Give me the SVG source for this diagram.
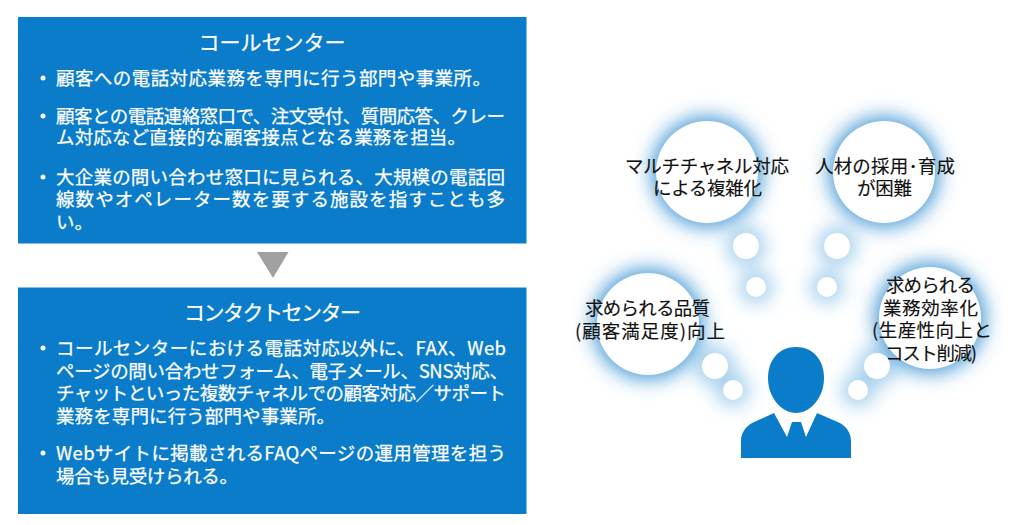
<svg xmlns="http://www.w3.org/2000/svg" width="1030" height="525" viewBox="0 0 1030 525">
<style>
text{font-family:"Noto Sans CJK JP","Liberation Sans",sans-serif}
.box{fill:#0a7cc9}
.w{fill:#fff;font-size:18.500px;stroke:#fff;stroke-width:.25}
.t{fill:#fff;font-size:21px;text-anchor:middle;stroke:#fff;stroke-width:.25}
.k{fill:#111;font-size:18.500px;stroke:#111;stroke-width:.15}
.gl{fill:#3f96d4}
.gs{fill:#a9d2ee}
.c{fill:#fff}
</style>
<defs>
<filter id="glow" x="-70%" y="-70%" width="240%" height="240%"><feGaussianBlur stdDeviation="10"/></filter>
<filter id="glows" x="-200%" y="-200%" width="500%" height="500%"><feGaussianBlur stdDeviation="9"/></filter>
</defs>
<rect width="1030" height="525" fill="#fff"/>
<g id="call-center">
<rect class="box" x="18" y="17" width="508.500" height="226.500"/>
<text class="t" x="272" y="50" textLength="147" lengthAdjust="spacing">コールセンター</text>
<circle class="c" cx="43" cy="78" r="2.500"/>
<text class="w" x="56" y="85" textLength="435" lengthAdjust="spacing">顧客への電話対応業務を専門に行う部門や事業所。</text>
<circle class="c" cx="43" cy="116" r="2.500"/>
<text class="w"><tspan x="56" y="123" textLength="449" lengthAdjust="spacing">顧客との電話連絡窓口で、注文受付、質問応答、クレー</tspan><tspan x="56" y="144" textLength="410" lengthAdjust="spacing">ム対応など直接的な顧客接点となる業務を担当。</tspan></text>
<circle class="c" cx="43" cy="177" r="2.500"/>
<text class="w"><tspan x="56" y="184" textLength="449" lengthAdjust="spacing">大企業の問い合わせ窓口に見られる、大規模の電話回</tspan><tspan x="56" y="206" textLength="449" lengthAdjust="spacing">線数やオペレーター数を要する施設を指すことも多</tspan><tspan x="56" y="229">い。</tspan></text>
</g>
<g id="arrow"><polygon points="257,252 288.500,252 273,278" fill="#a0a0a0"/></g>
<g id="contact-center">
<rect class="box" x="18" y="287.500" width="508.500" height="226.500"/>
<text class="t" x="272.500" y="320" textLength="177" lengthAdjust="spacing">コンタクトセンター</text>
<circle class="c" cx="43" cy="348" r="2.500"/>
<text class="w"><tspan x="56" y="355" textLength="450" lengthAdjust="spacing">コールセンターにおける電話対応以外に、FAX、Web</tspan><tspan x="56" y="378" textLength="452" lengthAdjust="spacing">ページの問い合わせフォーム、電子メール、SNS対応、</tspan><tspan x="56" y="400" textLength="450" lengthAdjust="spacing">チャットといった複数チャネルでの顧客対応／サポート</tspan><tspan x="56" y="423" textLength="279" lengthAdjust="spacing">業務を専門に行う部門や事業所。</tspan></text>
<circle class="c" cx="43" cy="453" r="2.500"/>
<text class="w"><tspan x="56" y="460" textLength="450" lengthAdjust="spacing">Webサイトに掲載されるFAQページの運用管理を担う</tspan><tspan x="56" y="483" textLength="182" lengthAdjust="spacing">場合も見受けられる。</tspan></text>
</g>
<g id="connectors">
<g filter="url(#glows)">
<circle class="gs" cx="746" cy="246" r="20"/><circle class="gs" cx="756" cy="287" r="17"/>
<circle class="gs" cx="837" cy="246" r="20"/><circle class="gs" cx="827" cy="287" r="17"/>
<circle class="gs" cx="715" cy="366" r="20"/><circle class="gs" cx="733" cy="390" r="17"/>
<circle class="gs" cx="877" cy="366" r="20"/><circle class="gs" cx="858" cy="390" r="17"/>
</g>
</g>
<g id="need-multichannel">
<circle class="gl" cx="707" cy="172" r="55" filter="url(#glow)"/>
<circle class="c" cx="707" cy="172" r="51"/>
<text class="k"><tspan x="625" y="172.500" textLength="164" lengthAdjust="spacing">マルチチャネル対応</tspan><tspan x="653" y="194.500" textLength="109" lengthAdjust="spacing">による複雑化</tspan></text>
</g>
<g id="need-talent">
<circle class="gl" cx="884" cy="172" r="55" filter="url(#glow)"/>
<circle class="c" cx="884" cy="172" r="51"/>
<text class="k"><tspan x="815" y="172.500" textLength="140" lengthAdjust="spacing">人材の採用･育成</tspan><tspan x="857" y="194.500" textLength="55" lengthAdjust="spacing">が困難</tspan></text>
</g>
<g id="need-quality">
<circle class="gl" cx="648" cy="324" r="55" filter="url(#glow)"/>
<circle class="c" cx="648" cy="324" r="51"/>
<text class="k"><tspan x="585" y="314.500" textLength="125" lengthAdjust="spacing">求められる品質</tspan><tspan x="575" y="337.500" textLength="150" lengthAdjust="spacing">(顧客満足度)向上</tspan></text>
</g>
<g id="need-efficiency">
<circle class="gl" cx="930" cy="318" r="55" filter="url(#glow)"/>
<circle class="c" cx="930" cy="318" r="51"/>
<text class="k"><tspan x="886" y="291.500" textLength="89" lengthAdjust="spacing">求められる</tspan><tspan x="883" y="314.500" textLength="95" lengthAdjust="spacing">業務効率化</tspan><tspan x="872" y="336.500" textLength="120" lengthAdjust="spacing">(生産性向上と</tspan><tspan x="885" y="359.500" textLength="92" lengthAdjust="spacing">コスト削減)</tspan></text>
</g>
<g id="bubbles">
<circle class="c" cx="746" cy="246" r="13"/><circle class="c" cx="756" cy="287" r="10"/>
<circle class="c" cx="837" cy="246" r="13"/><circle class="c" cx="827" cy="287" r="10"/>
<circle class="c" cx="715" cy="366" r="13"/><circle class="c" cx="733" cy="390" r="10"/>
<circle class="c" cx="877" cy="366" r="13"/><circle class="c" cx="858" cy="390" r="10"/>
</g>
<g id="person" fill="#0a7cc9">
<path d="M796 347C813 347 824 360 824 378C824 398 810 413 796 413C782 413 768 398 768 378C768 360 779 347 796 347Z"/>
<path d="M741 458V441C741 432 746 427 752 423L774 413L787 437L792 422H801L806 437L817 413L840 423C846 427 851 432 851 441V458Z"/>
</g>
</svg>
